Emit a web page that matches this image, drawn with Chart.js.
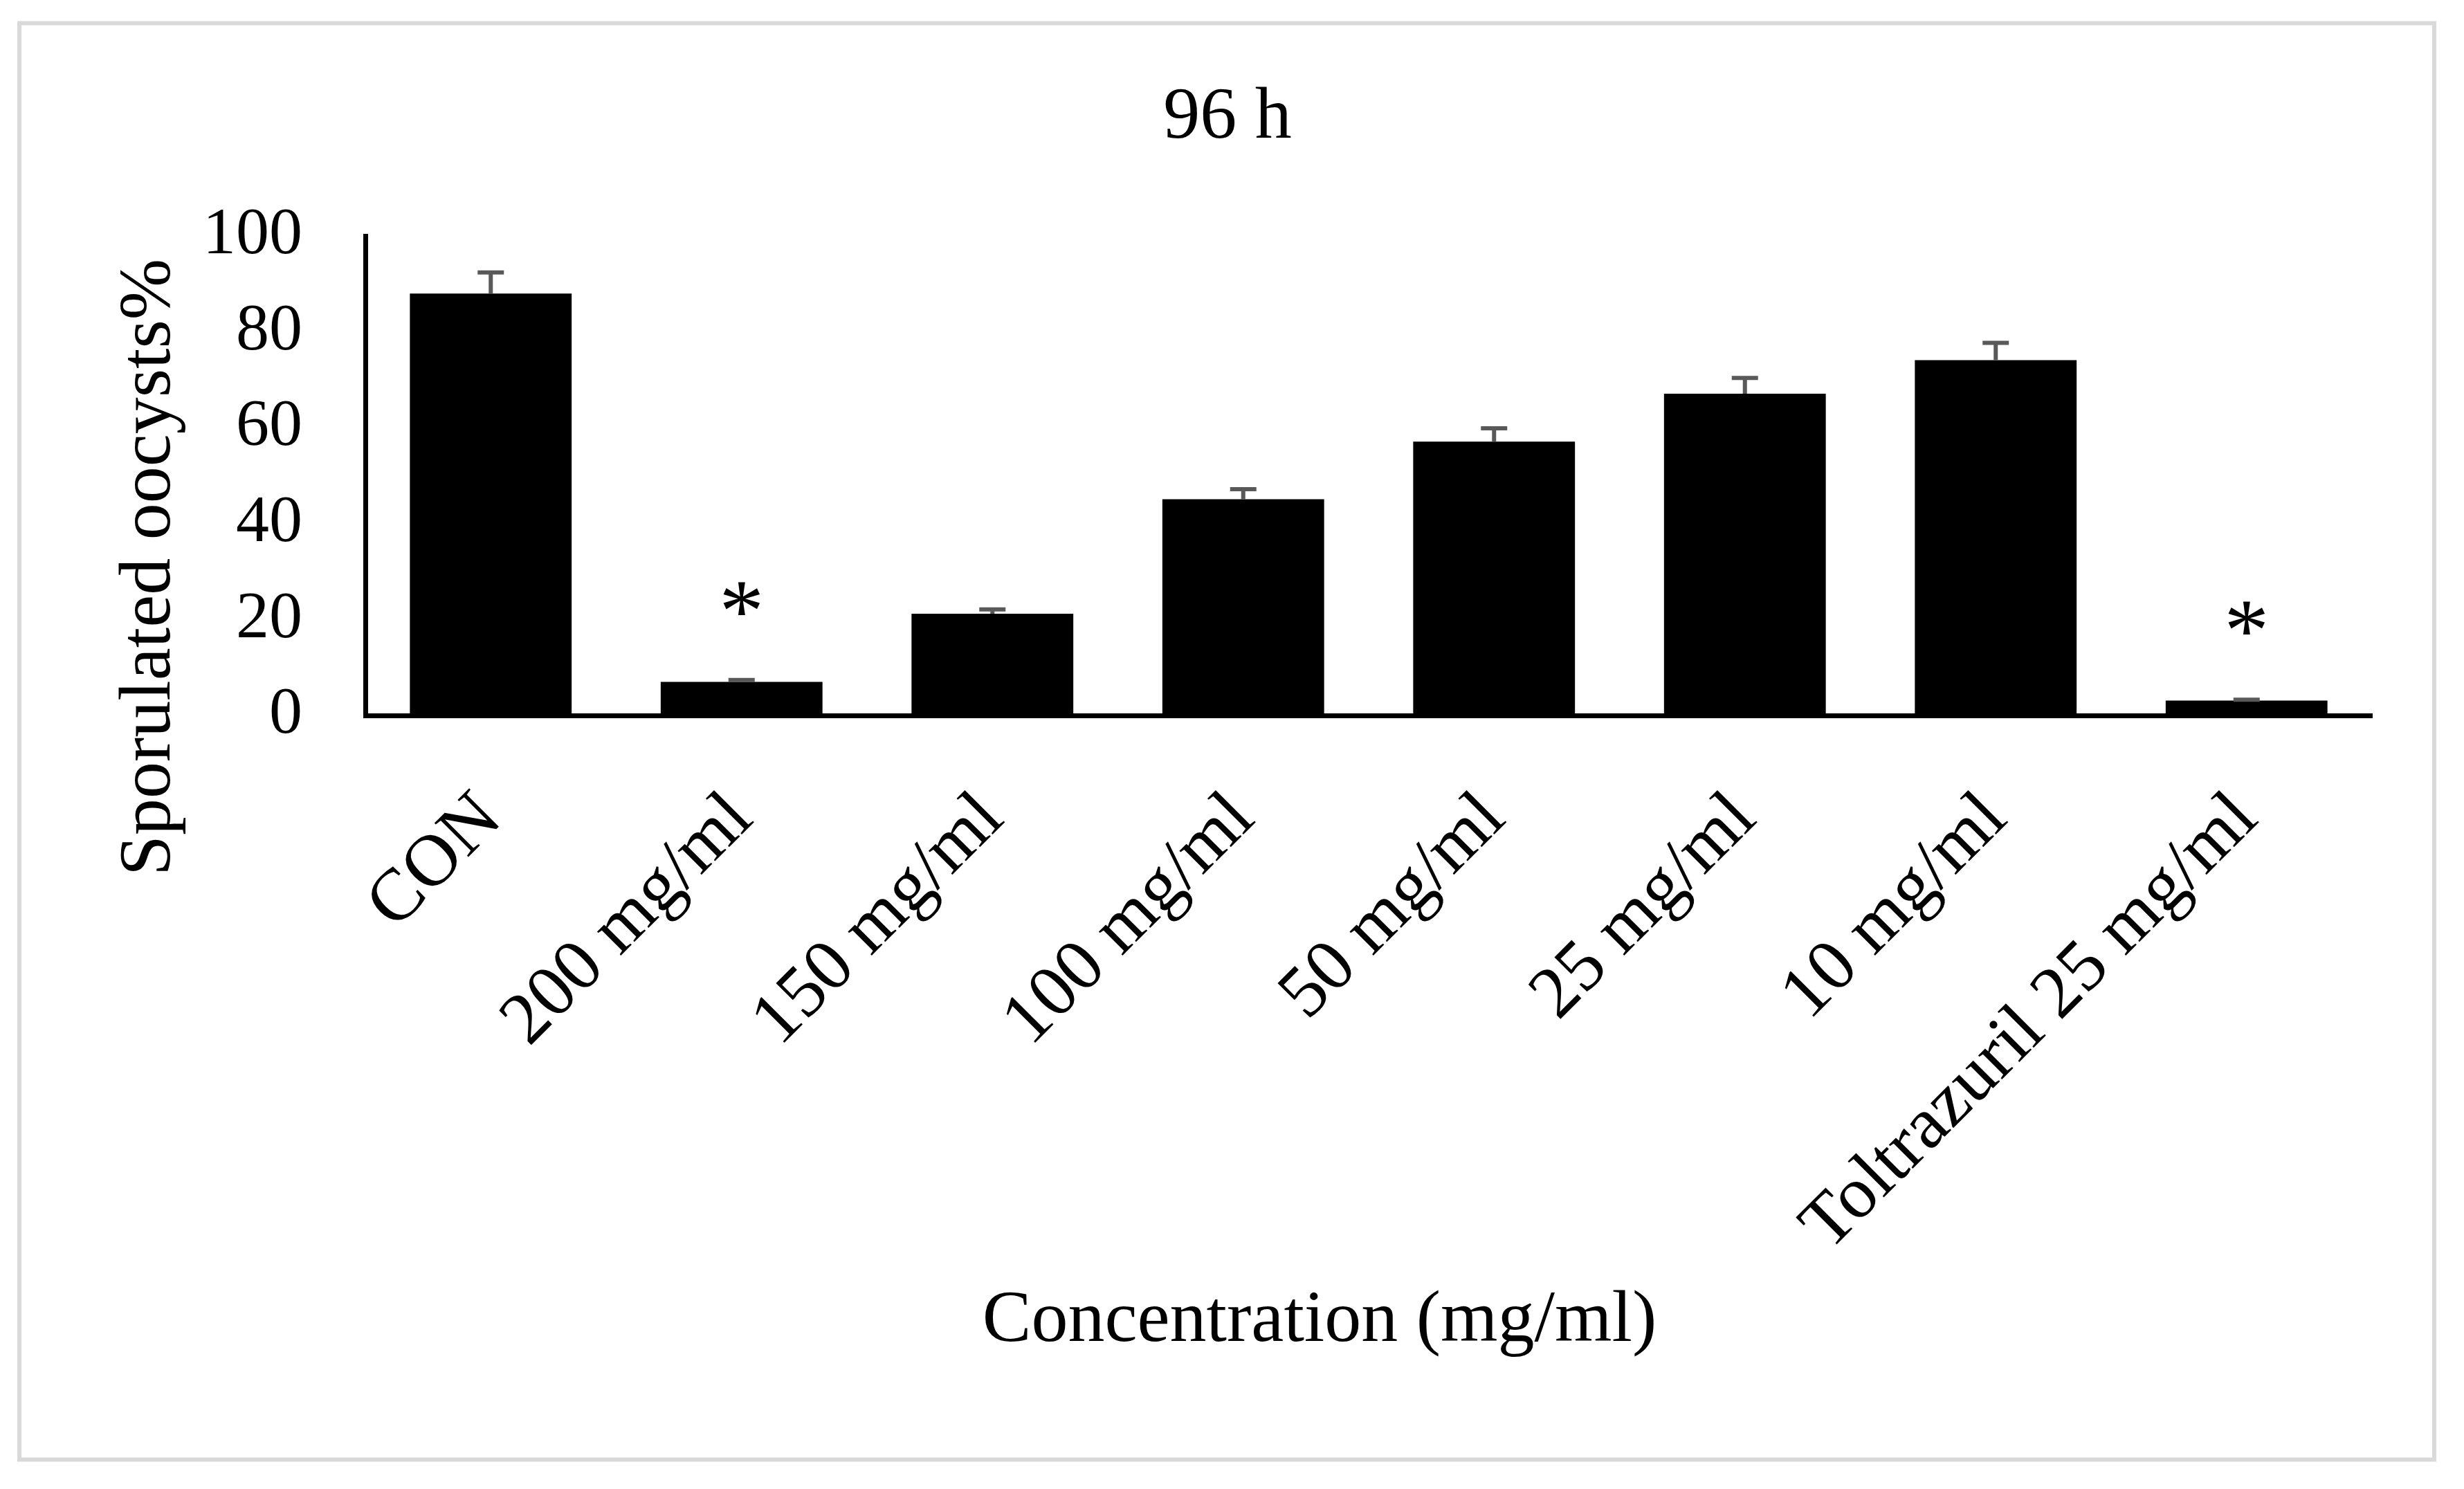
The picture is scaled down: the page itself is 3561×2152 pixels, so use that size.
<!DOCTYPE html>
<html>
<head>
<meta charset="utf-8">
<script src="https://cdn.jsdelivr.net/npm/chart.js@4.4.0/dist/chart.umd.min.js"></script>
<style>
  html, body { margin: 0; padding: 0; background: #fff; }
  canvas { display: block; }
</style>
</head>
<body>
<canvas id="grafico" width="3561" height="2152"></canvas>
<script>
const categorias = ['CON', '200 mg/ml', '150 mg/ml', '100 mg/ml', '50 mg/ml', '25 mg/ml', '10 mg/ml', 'Toltrazuril 25 mg/ml'];
const esporulados = [88.0, 7.0, 21.2, 45.1, 57.1, 67.1, 74.1, 3.1];
const erros = [4.4, 0.4, 0.9, 2.1, 2.8, 3.3, 3.6, 0.2];
const significativo = [false, true, false, false, false, false, false, true];
const yTicks = [0, 20, 40, 60, 80, 100];

const tituloGrafico = '96 h';
const tituloX = 'Concentration (mg/ml)';
const tituloY = 'Sporulated oocysts%';
const fonte = '"Liberation Serif", "Times New Roman", serif';

// fundo branco + moldura cinza
const moldura = {
  id: 'moldura',
  beforeDraw(chart) {
    const ctx = chart.ctx;
    ctx.save();
    ctx.fillStyle = '#fff';
    ctx.fillRect(0, 0, chart.width, chart.height);
    ctx.strokeStyle = '#d9d9d9';
    ctx.lineWidth = 6;
    ctx.strokeRect(28, 33.5, 3490, 2076);
    ctx.restore();
  }
};

// barras de erro (só para cima) e asteriscos
const barrasErro = {
  id: 'barrasErro',
  afterDatasetsDraw(chart) {
    const ctx = chart.ctx;
    const meta = chart.getDatasetMeta(0);
    const y = chart.scales.y;
    ctx.save();
    meta.data.forEach((bar, i) => {
      const topo = y.getPixelForValue(esporulados[i] + erros[i]);
      ctx.strokeStyle = '#595959';
      ctx.lineWidth = 6;
      ctx.beginPath();
      ctx.moveTo(bar.x, bar.y);
      ctx.lineTo(bar.x, topo);
      ctx.moveTo(bar.x - 19, topo);
      ctx.lineTo(bar.x + 19, topo);
      ctx.stroke();
      if (significativo[i]) {
        ctx.fillStyle = '#000';
        ctx.font = '130px ' + fonte;
        ctx.textAlign = 'center';
        ctx.textBaseline = 'alphabetic';
        const m = ctx.measureText('*');
        const cy = topo - 118;
        ctx.fillText('*', bar.x, cy + (m.actualBoundingBoxAscent - m.actualBoundingBoxDescent) / 2);
      }
    });
    ctx.restore();
  }
};

// título do gráfico (centrado na figura) e títulos dos eixos
const titulos = {
  id: 'titulos',
  afterDraw(chart) {
    const ctx = chart.ctx;
    ctx.save();
    ctx.fillStyle = '#000';
    ctx.font = '106px ' + fonte;
    ctx.textAlign = 'center';
    ctx.textBaseline = 'alphabetic';
    ctx.fillText(tituloGrafico, 1774, 199);
    ctx.fillText(tituloX, 1907, 1938);
    ctx.translate(245, 820);
    ctx.rotate(-Math.PI / 2);
    ctx.fillText(tituloY, 0, 0);
    ctx.restore();
  }
};

const ctx = document.getElementById('grafico').getContext('2d');
new Chart(ctx, {
  type: 'bar',
  data: {
    labels: categorias,
    datasets: [{
      data: esporulados,
      backgroundColor: '#000',
      borderWidth: 0,
      barPercentage: 0.645,
      categoryPercentage: 1.0
    }]
  },
  options: {
    responsive: false,
    animation: false,
    devicePixelRatio: 1,
    layout: { padding: { left: 0, right: 133, top: 341, bottom: 0 } },
    plugins: {
      legend: { display: false },
      tooltip: { enabled: false },
      title: { display: false }
    },
    scales: {
      x: {
        z: 1,
        grid: { display: false, drawTicks: false },
        border: { display: true, color: '#000', width: 7 },
        ticks: {
          color: '#000',
          font: { family: fonte, size: 106 },
          minRotation: 45,
          maxRotation: 45,
          autoSkip: false,
          padding: 88
        },
        afterFit(scale) { scale.height = 1118; }
      },
      y: {
        z: 1,
        min: 0,
        max: 100,
        grid: { display: false, drawTicks: false },
        border: { display: true, color: '#000', width: 7 },
        ticks: {
          color: '#000',
          font: { family: fonte, size: 96 },
          padding: 91
        },
        afterBuildTicks(scale) { scale.ticks = yTicks.map(v => ({ value: v })); },
        afterFit(scale) { scale.width = 528; }
      }
    }
  },
  plugins: [moldura, barrasErro, titulos]
});
</script>
</body>
</html>
